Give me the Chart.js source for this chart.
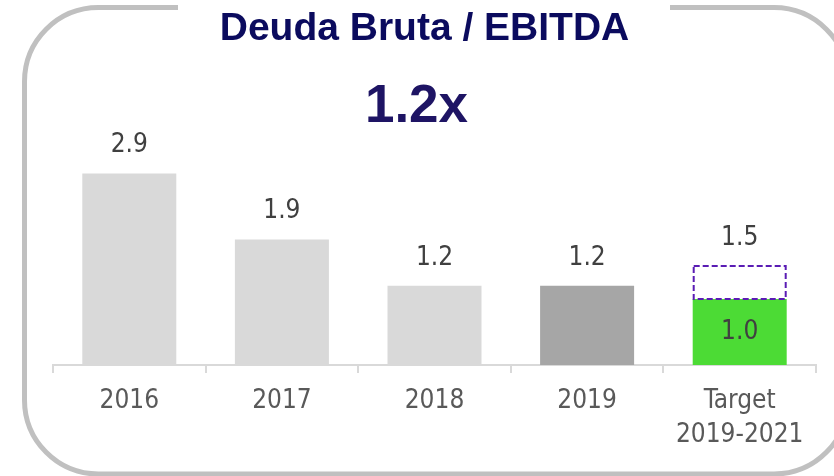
<!DOCTYPE html>
<html>
<head>
<meta charset="utf-8">
<script src="https://cdn.jsdelivr.net/npm/chart.js@4"></script>
<style>
  body { margin: 0; background: #ffffff; }
</style>
</head>
<body>
<canvas id="graficoDeuda" width="834" height="476"></canvas>
<script>
// Datos del gráfico
const etiquetas = ['2016', '2017', '2018', '2019', ['Target', '2019-2021']];
const valores = [2.9, 1.9, 1.2, 1.2, 1.0];
const rangoTarget = [null, null, null, null, [1.0, 1.5]];
const coloresBarras = ['#d9d9d9', '#d9d9d9', '#d9d9d9', '#a6a6a6', '#4cdb35'];
const titulo = 'Deuda Bruta / EBITDA';
const destacado = '1.2x';

const fuenteNum = '"DejaVu Sans Condensed", "DejaVu Sans", sans-serif';

// Marco redondeado y títulos
const marco = {
    id: 'marco',
    beforeDraw(chart) {
        const ctx = chart.ctx;
        ctx.save();
        ctx.fillStyle = '#ffffff';
        ctx.fillRect(0, 0, chart.width, chart.height);
        ctx.strokeStyle = '#c0c0c0';
        ctx.lineWidth = 5;
        ctx.beginPath();
        ctx.roundRect(24.5, 7.5, 823.5, 466.5, 74);
        ctx.stroke();
        ctx.fillStyle = '#ffffff';
        ctx.fillRect(178, 0, 492, 16);

        ctx.textAlign = 'center';
        ctx.textBaseline = 'alphabetic';
        ctx.fillStyle = '#0b0b5e';
        ctx.font = 'bold 39px "Liberation Sans", Arial, sans-serif';
        ctx.fillText(titulo, 424.5, 40);
        ctx.fillStyle = '#1e1464';
        ctx.font = 'bold 53px "Liberation Sans", Arial, sans-serif';
        ctx.fillText(destacado, 416.5, 122);
        ctx.restore();
    }
};

// Etiquetas de valor y caja punteada del target
const etiquetasValor = {
    id: 'etiquetasValor',
    afterDatasetsDraw(chart) {
        const ctx = chart.ctx;
        ctx.save();
        ctx.font = '26px ' + fuenteNum;
        ctx.fillStyle = '#404040';
        ctx.textAlign = 'center';
        ctx.textBaseline = 'middle';

        chart.getDatasetMeta(0).data.forEach((bar, i) => {
            const p = bar.getProps(['x', 'y', 'base'], true);
            const txt = valores[i].toFixed(1);
            if (i === 4) {
                ctx.fillText(txt, p.x, (p.y + p.base) / 2);
            } else {
                ctx.fillText(txt, p.x, p.y - 28);
            }
        });

        chart.getDatasetMeta(1).data.forEach((bar, i) => {
            if (!rangoTarget[i]) return;
            const p = bar.getProps(['x', 'y', 'base', 'width'], true);
            ctx.save();
            ctx.strokeStyle = '#5a1cb4';
            ctx.lineWidth = 2;
            ctx.setLineDash([6, 3]);
            ctx.strokeRect(p.x - p.width / 2 + 1, p.y, p.width - 2, p.base - p.y);
            ctx.restore();
            ctx.fillText(rangoTarget[i][1].toFixed(1), p.x, p.y - 28);
        });
        ctx.restore();
    }
};

const ctx = document.getElementById('graficoDeuda').getContext('2d');
new Chart(ctx, {
    type: 'bar',
    data: {
        labels: etiquetas,
        datasets: [{
            label: 'Deuda Bruta / EBITDA',
            data: valores,
            backgroundColor: coloresBarras,
            borderWidth: 0
        }, {
            label: 'Rango target',
            data: rangoTarget,
            backgroundColor: 'rgba(0,0,0,0)',
            borderWidth: 0
        }]
    },
    options: {
        responsive: false,
        animation: false,
        barPercentage: 0.616,
        categoryPercentage: 1,
        layout: {
            padding: { top: 101, left: 53, right: 18, bottom: 0 }
        },
        plugins: {
            legend: { display: false },
            title: { display: false },
            tooltip: { enabled: false }
        },
        scales: {
            x: {
                stacked: true,
                afterFit(scale) { scale.height = 111; },
                grid: {
                    display: true,
                    offset: true,
                    drawOnChartArea: false,
                    drawTicks: true,
                    tickLength: 8,
                    color: '#d9d9d9',
                    lineWidth: 2
                },
                border: { color: '#d9d9d9', width: 2 },
                ticks: {
                    color: '#595959',
                    padding: 11,
                    maxRotation: 0,
                    font: { family: fuenteNum, size: 26, lineHeight: 1.31 }
                }
            },
            y: {
                display: false,
                stacked: false,
                min: 0,
                max: 4
            }
        }
    },
    plugins: [marco, etiquetasValor]
});
</script>
</body>
</html>
